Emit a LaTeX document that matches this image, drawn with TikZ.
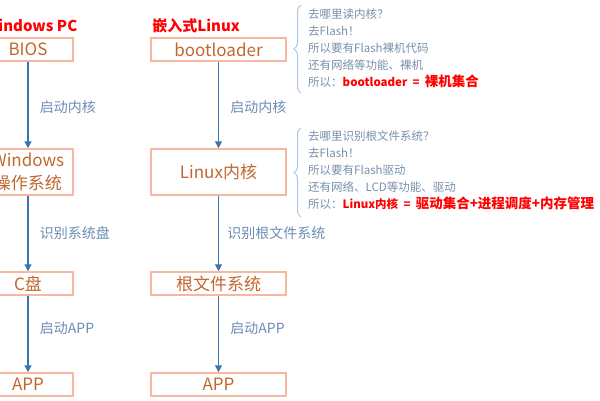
\documentclass[tikz,border=0pt]{standalone}
\usepackage{fontspec}
\setmainfont{Noto Sans CJK SC}
\usetikzlibrary{arrows.meta,decorations.pathreplacing}
\definecolor{boxline}{HTML}{F6B8A0}
\definecolor{boxtext}{HTML}{C0672E}
\definecolor{arrowblue}{HTML}{3B74AE}
\definecolor{labelblue}{HTML}{6B8DB3}
\definecolor{bracecol}{HTML}{A9C5E2}
\definecolor{notegray}{HTML}{7890AB}
\newcommand{\bighan}[1]{{\fontsize{13.5}{17}\selectfont #1}}
\tikzset{
  stage/.style={draw=boxline,line width=1.5pt,text=boxtext,minimum height=23pt,inner sep=0pt,
    align=center,font=\fontsize{17}{23}\selectfont},
  flow/.style={draw=arrowblue,line width=1.3pt,-{Triangle[length=7pt,width=7pt]}},
  steplabel/.style={anchor=west,xshift=8pt,text=labelblue,font=\fontsize{14}{16}\selectfont},
  title/.style={anchor=base west,text=red,inner sep=0pt,yshift=6pt,xshift=2pt,
    font=\bfseries\fontsize{15}{18}\selectfont},
  note/.style={anchor=north west,align=left,text=notegray,inner sep=0pt,
    font=\fontsize{11.5}{17}\selectfont},
  notebrace/.style={draw=bracecol,line width=1pt,decorate,decoration={brace,amplitude=7pt}},
}
\begin{document}
\begin{tikzpicture}[x=1pt,y=-1pt]
  \useasboundingbox (0,0) rectangle (600,400);
  \clip (0,0) rectangle (600,400);
  % Windows PC column
  \node[stage,minimum width=90pt] (bios) at (28,49.5) {BIOS};
  \node[stage,minimum width=90pt,minimum height=46pt] (winos) at (28,172) {Windows\\操作系统};
  \node[stage,minimum width=90pt] (cdisk) at (28,283.5) {C盘};
  \node[stage,minimum width=90pt] (winapp) at (28,384.5) {APP};
  \node[title] (wintitle) at (bios.north west) {Windows PC};
  \draw[flow] (bios) -- (winos) node[midway,steplabel,yshift=-2pt] {启动内核};
  \draw[flow] (winos) -- (cdisk) node[midway,steplabel] {识别系统盘};
  \draw[flow] (cdisk) -- (winapp) node[pos=0.42,steplabel] {启动APP};
  % embedded Linux column
  \node[stage,minimum width=135pt] (boot) at (218.5,49.5) {bootloader};
  \node[stage,minimum width=135pt,minimum height=46pt] (kernel) at (218.5,172) {Linux内核};
  \node[stage,minimum width=135pt] (rootfs) at (218.5,283.5) {根文件系统};
  \node[stage,minimum width=135pt] (linapp) at (218.5,384.5) {APP};
  \node[title] (lintitle) at (boot.north west) {嵌入式Linux};
  \draw[flow] (boot) -- (kernel) node[midway,steplabel,yshift=-2pt] {启动内核};
  \draw[flow] (kernel) -- (rootfs) node[midway,steplabel,xshift=-3pt] {识别根文件系统};
  \draw[flow] (rootfs) -- (linapp) node[pos=0.42,steplabel] {启动APP};
  % notes
  \coordinate (b1top) at (301,5);
  \coordinate (b1bot) at (301,93);
  \coordinate (b2top) at (301,128);
  \coordinate (b2bot) at (301,217);
  \draw[notebrace] (b1bot) -- (b1top);
  \draw[notebrace] (b2bot) -- (b2top);
  \node[note] (bootnote) at (308,9) {去哪里读内核？\\去Flash！\\所以要有Flash裸机代码\\还有网络等功能、裸机\\
    所以：{\color{red}\bfseries bootloader ~=~ \bighan{裸机集合}}};
  \node[note] (kernnote) at (308,131) {去哪里识别根文件系统？\\去Flash！\\所以要有Flash驱动\\还有网络、LCD等功能、驱动\\
    所以：{\color{red}\bfseries Linux内核 ~=~ \bighan{驱动集合+进程调度+内存管理}}};
\end{tikzpicture}
\end{document}
